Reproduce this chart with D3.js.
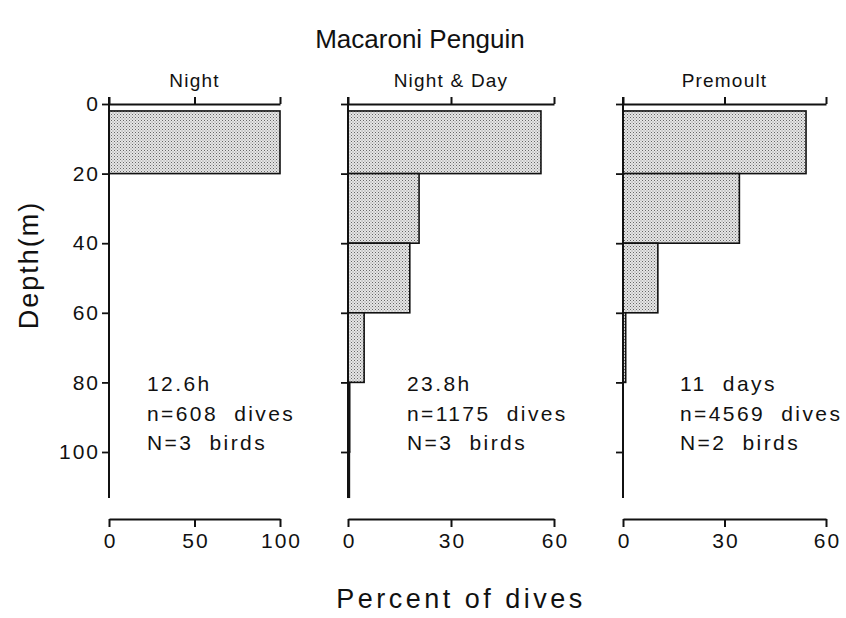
<!DOCTYPE html>
<html>
<head>
<meta charset="utf-8">
<script src="https://cdn.jsdelivr.net/npm/d3@7"></script>
<style>
  body { margin: 0; background: #fff; }
  svg text { font-family: "Liberation Sans", Arial, sans-serif; fill: #111; }
</style>
</head>
<body>
<svg id="chart" width="846" height="618"></svg>
<script>
// depth bins (m) - top and bottom edge of each bar
var binTop    = [2, 20, 40, 60, 80, 100];
var binBottom = [20, 40, 60, 80, 100, 113];
var depthTicks = [0, 20, 40, 60, 80, 100];

var panelNames = ["Night", "Night & Day", "Premoult"];
// percent of dives per depth bin
var nightValues    = [100, 0, 0, 0, 0, 0];
var nightDayValues = [56.2, 20.7, 18, 4.7, 0.5, 0.4];
var premoultValues = [54.1, 34.4, 10.3, 0.8, 0, 0];
var percentMax   = [100, 60, 60];
var percentTicks = [[0, 50, 100], [0, 30, 60], [0, 30, 60]];
var notes = [
    ["12.6h", "n=608 dives", "N=3 birds"],
    ["23.8h", "n=1175 dives", "N=3 birds"],
    ["11 days", "n=4569 dives", "N=2 birds"]
];

var svg = d3.select("#chart");

// stipple fill for the bars
var pat = svg.append("defs").append("pattern")
    .attr("id", "stipple")
    .attr("patternUnits", "userSpaceOnUse")
    .attr("width", 3).attr("height", 3);
pat.append("rect").attr("width", 3).attr("height", 3).attr("fill", "#e6e6e6");
pat.append("rect").attr("x", 0).attr("y", 0).attr("width", 1).attr("height", 1).attr("fill", "#666");
pat.append("rect").attr("x", 1.5).attr("y", 1.5).attr("width", 1).attr("height", 1).attr("fill", "#888");

var y = d3.scaleLinear().domain([0, 100]).range([104, 452]);
var axisTopY = 104, axisBottomY = 519, axisEnd = 498;

// pixel span of each panel's percent axis
var panelX = [[109, 280], [348, 554], [623, 826]];
var allValues = [nightValues, nightDayValues, premoultValues];

function styleLabels(sel) {
    sel.style("font-size", "21px")
        .style("letter-spacing", "2px")
        .style("font-family", "Liberation Sans, Arial, sans-serif")
        .attr("fill", "#111");
}

function drawPanel(i) {
    var x = d3.scaleLinear().domain([0, percentMax[i]]).range(panelX[i]);
    var g = svg.append("g");
    var vals = allValues[i];

    // bars
    g.selectAll("rect.bar")
        .data(vals.map(function(v, k) { return {v: v, t: binTop[k], b: binBottom[k]}; })
                  .filter(function(d) { return d.v > 0; }))
        .enter().append("rect")
        .attr("class", "bar")
        .attr("x", x(0))
        .attr("y", function(d) { return y(d.t); })
        .attr("width", function(d) { return x(d.v) - x(0); })
        .attr("height", function(d) { return y(d.b) - y(d.t); })
        .attr("fill", "url(#stipple)")
        .attr("stroke", "#111")
        .attr("stroke-width", 1.6);

    // depth axis
    var yAxis = d3.axisLeft(y).tickValues(depthTicks).tickSize(7).tickSizeOuter(0);
    if (i > 0) yAxis.tickFormat("");
    var ya = g.append("g")
        .attr("transform", "translate(" + x(0) + ",0)")
        .call(yAxis);
    ya.select(".domain").remove();
    ya.append("line")
        .attr("x1", 0).attr("x2", 0)
        .attr("y1", axisTopY - 7).attr("y2", axisEnd)
        .attr("stroke", "#111").attr("stroke-width", 2);
    ya.selectAll(".tick line").attr("stroke", "#111").attr("stroke-width", 1.8);
    styleLabels(ya.selectAll(".tick text").attr("x", -9));

    // top axis, ticks only
    var ta = g.append("g")
        .attr("transform", "translate(0," + axisTopY + ")")
        .call(d3.axisTop(x).tickValues(percentTicks[i]).tickSize(7).tickSizeOuter(0).tickFormat(""));
    ta.selectAll("path, line").attr("stroke", "#111").attr("stroke-width", 2);

    // bottom axis
    var ba = g.append("g")
        .attr("transform", "translate(0," + axisBottomY + ")")
        .call(d3.axisBottom(x).tickValues(percentTicks[i]).tickSize(8).tickSizeOuter(0));
    ba.selectAll("path, line").attr("stroke", "#111").attr("stroke-width", 2);
    styleLabels(ba.selectAll(".tick text").attr("y", 14).attr("dx", "1px"));

    // panel title
    g.append("text")
        .attr("x", (panelX[i][0] + panelX[i][1]) / 2)
        .attr("y", 87)
        .attr("text-anchor", "middle")
        .style("font-size", "19px")
        .style("letter-spacing", "1.2px")
        .text(panelNames[i]);

    // notes
    var noteX = [147, 407, 680];
    g.selectAll("text.note")
        .data(notes[i])
        .enter().append("text")
        .attr("class", "note")
        .attr("x", noteX[i])
        .attr("y", function(d, k) { return 391 + k * 29.5; })
        .style("font-size", "21px")
        .style("letter-spacing", "2.4px")
        .style("word-spacing", "8px")
        .text(function(d) { return d; });
}

for (var i = 0; i < 3; i++) drawPanel(i);

// titles
svg.append("text")
    .attr("x", 420).attr("y", 48)
    .attr("text-anchor", "middle")
    .style("font-size", "26px")
    .style("letter-spacing", "0px")
    .text("Macaroni Penguin");

svg.append("text")
    .attr("x", 461).attr("y", 608)
    .attr("text-anchor", "middle")
    .style("font-size", "27px")
    .style("letter-spacing", "3.5px")
    .text("Percent of dives");

svg.append("text")
    .attr("transform", "translate(38,265) rotate(-90)")
    .attr("text-anchor", "middle")
    .style("font-size", "27px")
    .style("letter-spacing", "2px")
    .text("Depth(m)");
</script>
</body>
</html>
